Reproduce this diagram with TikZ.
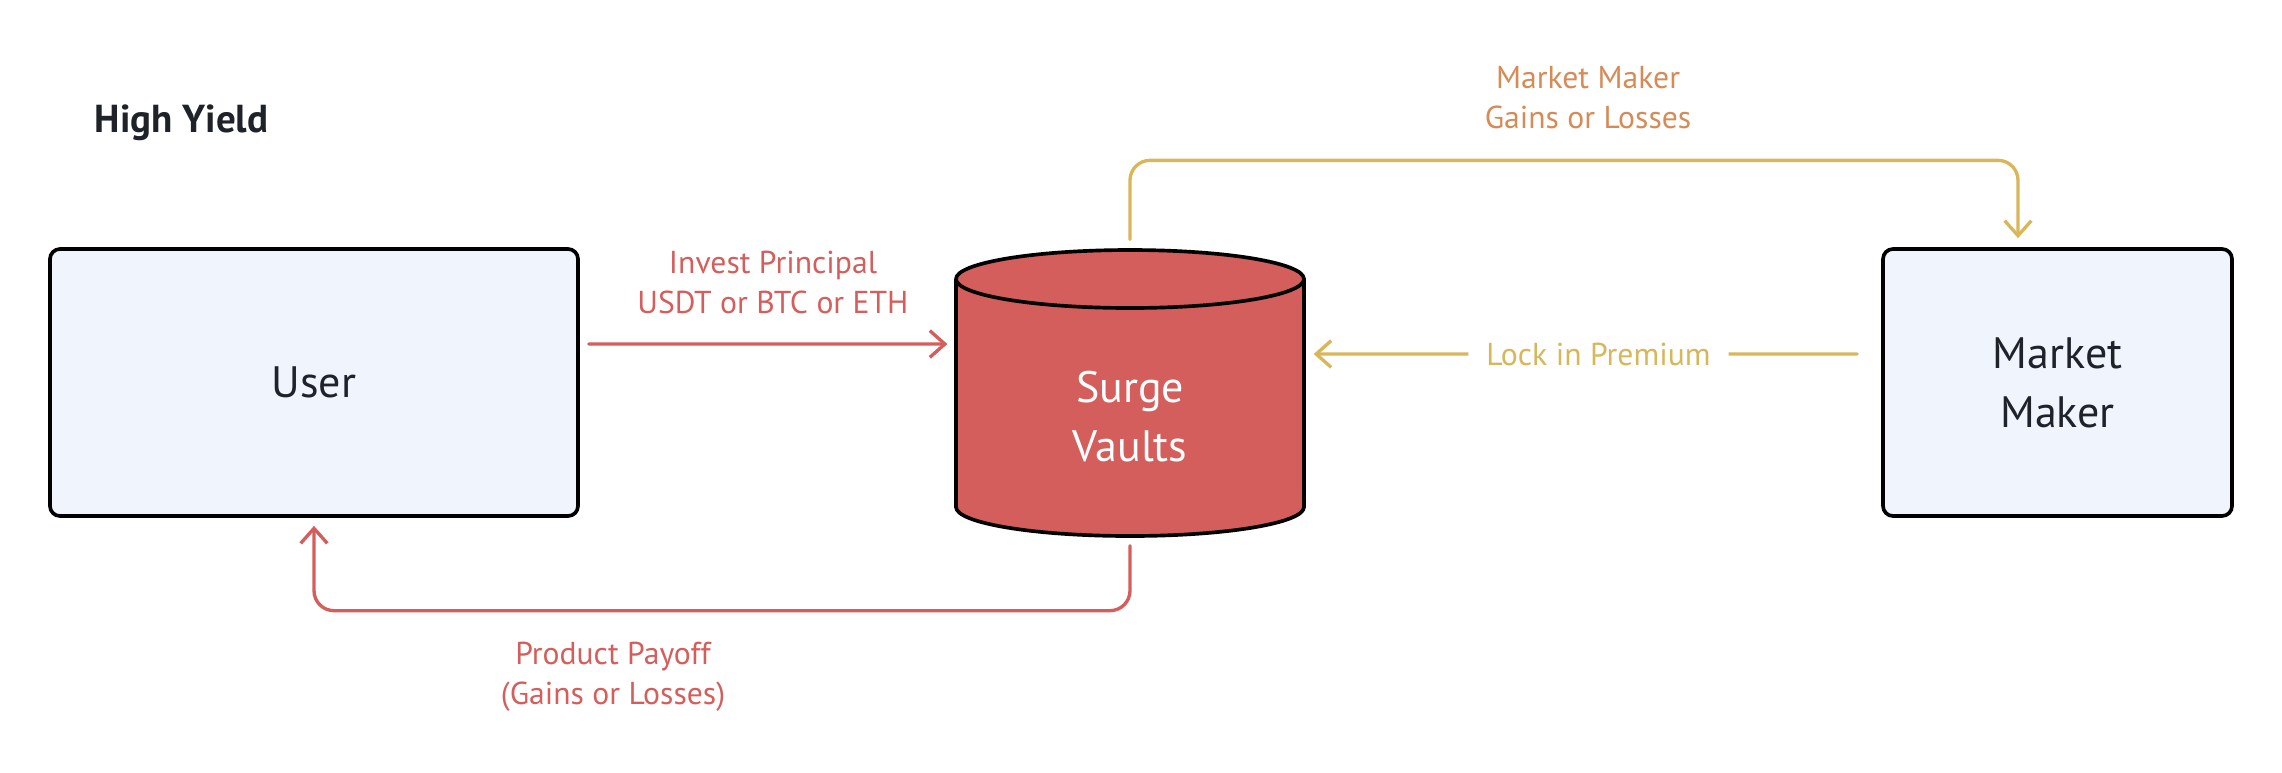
\documentclass[tikz,border=0pt]{standalone}
\usepackage{fontspec}
\setmainfont{PT Sans}
\usetikzlibrary{arrows.meta}
\definecolor{vaultred}{HTML}{D45E5C}
\definecolor{flowgold}{HTML}{D8B65A}
\definecolor{gainorange}{HTML}{D68B57}
\definecolor{boxblue}{HTML}{EFF4FD}
\definecolor{inkdark}{HTML}{1F2329}

\begin{document}
\begin{tikzpicture}
  [x=0.3pt, y=-0.3pt,
  party/.style={draw=black, line width=1.1pt, fill=boxblue, rounded corners=3pt, text=inkdark,
    font=\fontsize{13.2}{17.7}\selectfont, align=center, inner sep=0pt, minimum height=80.1pt},
  flow/.style={line width=1pt, line cap=round, rounded corners=6pt,
    -{Straight Barb[length=4.5pt, width=8pt]}},
  flowlabel/.style={font=\fontsize{9.5}{12}\selectfont, align=center, inner sep=0pt}]
  \useasboundingbox (0,0) rectangle (2282,772);
  \node[anchor=base west, inner sep=0pt, text=inkdark, font=\bfseries\fontsize{11.7}{14}\selectfont] (title) at (94,132) {High Yield};
  \node[party, minimum width=158.4pt] (user) at (314,382.5) {User};
  \node[party, minimum width=104.7pt] (maker) at (2057.5,382.5) {Market\\Maker};
  % the vault node only holds the name, the cylinder is drawn by hand
  \node[minimum width=104.4pt, minimum height=86.1pt, inner sep=0pt] (vault) at (1130,392.5) {};
  \filldraw[fill=vaultred, line width=1.1pt, line join=round]
    (956,279) -- (956,507) arc[start angle=180, end angle=360, x radius=52.2pt, y radius=8.7pt]
    -- (1304,279) arc[start angle=0, end angle=180, x radius=52.2pt, y radius=8.7pt] -- cycle;
  \draw[line width=1.1pt] (956,279) arc[start angle=180, end angle=360, x radius=52.2pt, y radius=8.7pt];
  \node[text=white, align=center, font=\fontsize{13.2}{17.7}\selectfont] (vaultname) at (1130,417) {Surge\\Vaults};

  % red flows
  \draw[flow, vaultred] ([xshift=2.7pt, yshift=11.55pt]user.east) -- ([xshift=-2.4pt, yshift=14.55pt]vault.west);
  \node[flowlabel, text=vaultred] (invest) at (773,282.5) {Invest Principal\\USDT or BTC or ETH};
  \draw[flow, vaultred] ([yshift=-2.7pt]vault.south) -- ++(0,65) -| ([yshift=-2.4pt]user.south);
  \node[flowlabel, text=vaultred] (payoff) at (613,677) {Product Payoff\\(Gains or Losses)};

  % gold flows
  \draw[flow, flowgold] ([yshift=2.7pt]vault.north) -- ++(0,-79) -| ([xshift=-11.85pt, yshift=2.7pt]maker.north);
  \node[flowlabel, text=gainorange] (gains) at (1588,98) {Market Maker\\Gains or Losses};
  \draw[flow, flowgold] ([xshift=-7.2pt, yshift=8.55pt]maker.west)
    -- node[pos=0.476, flowlabel, fill=white, inner xsep=5.4pt, inner ysep=2pt, text=flowgold] (lock) {Lock in Premium}
    ([xshift=2.7pt, yshift=11.55pt]vault.east);
\end{tikzpicture}
\end{document}
